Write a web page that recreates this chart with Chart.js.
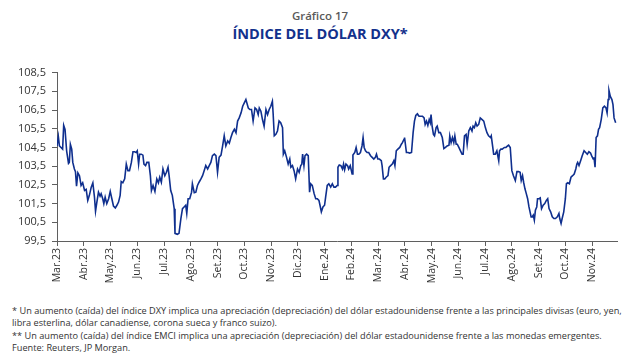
<!DOCTYPE html>
<html>
<head>
<meta charset="utf-8">
<script src="https://cdn.jsdelivr.net/npm/chart.js@4.4.1/dist/chart.umd.min.js"></script>
<style>
  body { margin: 0; width: 640px; height: 361px; background: #fff; font-family: "Open Sans", sans-serif; position: relative; overflow: hidden; }
  #sub { position: absolute; top: 8px; left: 0; width: 640px; text-align: center; font-size: 11.5px; font-weight: 600; color: #5a5a5a; }
  #title { position: absolute; top: 24px; left: 0; width: 640px; text-align: center; font-size: 14.5px; font-weight: 700; color: #13318c; }
  #wrap { position: absolute; top: 60px; left: 0; width: 640px; height: 240px; }
  #notes { position: absolute; top: 305px; left: 12px; width: 626px; font-size: 9.2px; line-height: 12.4px; color: #333; }
</style>
</head>
<body>
<div id="sub">Gráfico 17</div>
<div id="title">ÍNDICE DEL DÓLAR DXY*</div>
<div id="wrap"><canvas id="dxyChart" width="640" height="240"></canvas></div>
<div id="notes">
  * Un aumento (caída) del índice DXY implica una apreciación (depreciación) del dólar estadounidense frente a las principales divisas (euro, yen,<br>
  libra esterlina, dólar canadiense, corona sueca y franco suizo).<br>
  ** Un aumento (caída) del índice EMCI implica una apreciación (depreciación) del dólar estadounidense frente a las monedas emergentes.<br>
  Fuente: Reuters, JP Morgan.
</div>
<script>
// month labels (one tick per month, starting Mar.23)
const monthLabels = ['Mar.23','Abr.23','May.23','Jun.23','Jul.23','Ago.23','Set.23','Oct.23','Nov.23','Dic.23',
  'Ene.24','Feb.24','Mar.24','Abr.24','May.24','Jun.24','Jul.24','Ago.24','Set.24','Oct.24','Nov.24'];

// time in months since 1 Mar 2023
const months = [
  0.00,0.05,0.09,0.15,0.21,0.25,0.30,0.36,0.43,0.46,0.50,0.55,0.59,0.65,0.69,0.73,0.78,0.84,0.90,0.96,
  1.03,1.09,1.15,1.21,1.28,1.34,1.40,1.44,1.49,1.55,1.61,1.65,1.71,1.75,1.80,1.86,1.93,1.99,
  2.05,2.11,2.18,2.24,2.30,2.36,2.40,2.46,2.53,2.59,2.65,2.71,2.78,2.84,2.90,2.96,
  3.00,3.05,3.09,3.15,3.21,3.25,3.31,3.36,3.43,3.49,3.53,3.59,3.66,3.73,3.79,3.84,3.90,3.96,
  4.03,4.09,4.15,4.19,4.25,4.31,4.38,4.41,4.50,4.56,4.63,4.69,4.75,4.81,4.85,4.90,4.96,
  5.03,5.06,5.13,5.19,5.25,5.31,5.38,5.44,5.50,5.56,5.63,5.69,5.75,5.81,5.88,5.94,
  6.00,6.06,6.13,6.19,6.25,6.31,6.38,6.44,6.50,6.56,6.63,6.69,6.75,6.81,6.88,6.94,
  7.00,7.06,7.15,7.21,7.27,7.33,7.40,7.46,7.52,7.56,7.62,7.68,7.74,7.81,7.87,7.93,7.99,
  8.05,8.08,8.12,8.18,8.24,8.30,8.36,8.43,8.46,8.51,8.58,8.64,8.70,8.74,8.80,8.86,8.92,8.99,
  9.05,9.11,9.15,9.18,9.23,9.27,9.33,9.39,9.44,9.48,9.54,9.61,9.67,9.73,9.79,9.83,9.88,9.94,
  10.00,10.04,10.10,10.16,10.23,10.29,10.35,10.41,10.47,10.50,10.55,10.61,10.67,10.71,10.75,10.80,10.86,10.90,10.96,
  11.03,11.06,11.13,11.18,11.23,11.28,11.34,11.40,11.44,11.48,11.53,11.59,11.65,11.72,11.78,11.84,11.90,11.94,11.99,
  12.05,12.12,12.15,12.20,12.25,12.30,12.37,12.41,12.47,12.53,12.59,12.63,12.68,12.74,12.81,12.87,12.91,12.97,12.99,
  13.06,13.12,13.18,13.25,13.31,13.36,13.41,13.47,13.53,13.60,13.66,13.72,13.76,13.81,13.86,13.91,13.95,13.98,
  14.02,14.07,14.11,14.17,14.21,14.27,14.33,14.40,14.46,14.52,14.58,14.65,14.68,14.73,14.78,14.83,14.87,14.92,14.96,
  15.02,15.08,15.14,15.18,15.23,15.29,15.33,15.39,15.45,15.51,15.55,15.60,15.65,15.70,15.76,15.82,15.89,15.95,
  16.01,16.07,16.13,16.20,16.23,16.28,16.32,16.38,16.44,16.51,16.54,16.59,16.64,16.72,16.78,16.84,16.88,16.94,
  17.00,17.06,17.13,17.19,17.25,17.31,17.35,17.40,17.44,17.49,17.54,17.59,17.64,17.68,17.72,17.76,17.80,17.84,17.88,17.93,17.96,
  18.02,18.06,18.11,18.17,18.23,18.29,18.34,18.39,18.45,18.51,18.57,18.63,18.70,18.76,18.79,18.84,18.88,18.94,
  19.00,19.04,19.09,19.15,19.21,19.27,19.33,19.39,19.43,19.46,19.51,19.57,19.63,19.70,19.76,19.82,19.88,19.94,19.98,
  20.04,20.07,20.11,20.15,20.20,20.24,20.28,20.34,20.40,20.46,20.52,20.56,20.60,20.63,20.68,20.74,20.78,20.82,20.88
];

// DXY index level at each of those times
const dxy = [
  104.58,105.08,104.58,104.50,104.41,105.68,105.47,104.32,103.65,103.70,104.67,104.41,103.70,103.35,103.21,102.43,103.14,102.99,102.47,102.61,
  102.20,102.26,101.67,101.94,102.38,102.61,101.85,101.09,101.58,102.11,101.90,102.03,101.76,101.50,101.85,101.50,101.76,102.15,
  101.76,101.37,101.27,101.41,101.58,101.94,102.68,102.61,102.82,103.61,103.26,103.26,103.70,104.27,104.27,104.23,
  104.32,103.61,104.14,104.14,104.09,103.61,103.53,103.70,103.70,102.99,102.20,102.47,102.15,102.82,102.61,102.91,102.64,103.35,
  102.99,103.17,103.44,102.99,102.20,101.94,101.23,99.91,99.86,99.91,100.70,101.23,101.32,101.41,100.97,101.76,101.76,
  102.11,102.56,102.08,102.11,102.47,102.64,102.82,102.99,103.26,103.53,103.35,103.53,103.70,104.06,104.14,104.06,
  103.17,103.97,104.09,104.58,105.12,104.58,104.85,104.73,105.03,105.29,105.47,105.29,105.91,106.08,106.35,106.70,
  106.88,107.06,106.61,106.53,106.53,105.91,106.61,106.53,106.26,106.61,106.44,105.99,105.64,106.53,106.26,106.53,106.70,
  106.97,106.26,105.12,105.20,105.38,105.91,105.82,105.56,104.14,104.32,103.97,103.61,103.88,103.44,103.53,103.26,102.82,103.35,
  103.17,103.53,103.61,104.14,103.53,104.06,104.14,104.06,102.11,102.56,102.47,102.03,101.76,101.76,101.67,101.41,101.06,101.32,
  101.41,101.85,102.47,102.56,102.38,102.56,102.38,102.38,102.47,103.44,103.56,103.53,103.35,103.61,103.31,103.61,103.53,103.35,103.53,
  103.08,104.09,104.23,104.50,104.14,104.14,104.23,104.58,105.03,104.50,104.32,104.23,104.23,104.06,103.97,103.88,103.97,104.14,103.88,
  103.88,103.79,103.53,102.82,102.82,102.91,102.99,103.44,103.53,103.61,103.79,103.53,104.32,104.41,104.50,104.67,104.76,104.94,105.03,
  104.23,104.23,104.20,104.23,105.29,105.91,106.21,106.30,106.17,106.17,106.17,106.08,105.73,105.91,105.68,105.99,105.82,106.26,
  105.64,105.20,105.12,105.56,105.64,105.29,105.29,105.03,104.44,104.50,104.58,104.62,105.12,104.76,105.03,104.76,105.12,104.67,104.67,
  104.50,104.32,104.14,104.14,105.12,105.20,104.67,105.38,105.56,105.38,105.64,105.56,105.82,105.64,105.73,106.08,105.99,105.91,
  105.56,105.29,105.12,105.03,105.12,104.58,104.14,104.14,104.32,103.79,104.32,104.41,104.41,104.50,104.50,104.58,104.62,104.50,
  103.26,102.99,102.73,103.21,103.21,103.17,102.73,102.99,102.64,102.29,102.03,101.76,101.32,101.06,100.79,100.79,100.88,100.61,101.14,101.32,101.76,
  101.76,101.80,101.23,101.41,101.50,101.67,101.76,101.23,101.06,100.79,100.70,100.70,100.79,100.97,100.70,100.44,100.70,101.06,
  101.76,102.56,102.61,102.56,102.91,102.99,103.08,103.35,103.61,103.70,103.53,103.79,104.06,104.32,104.23,104.14,104.27,104.20,104.06,
  103.88,103.97,103.44,105.03,105.12,105.47,105.56,105.99,106.61,106.70,106.61,106.35,107.06,107.55,107.23,107.06,106.79,106.08,105.82
];

const yMin = 99.5;
const yMax = 108.5;

const axisColor = '#5f5f5f';
const points = months.map((m, i) => ({ x: m, y: dxy[i] }));

new Chart(document.getElementById('dxyChart'), {
  type: 'line',
  data: {
    datasets: [{
      data: points,
      borderColor: '#0f2f8e',
      borderWidth: 1.6,
      pointRadius: 0,
      tension: 0,
      fill: false
    }]
  },
  options: {
    responsive: false,
    animation: false,
    layout: { padding: { top: 11, right: 23, left: 0, bottom: 0 } },
    plugins: { legend: { display: false }, tooltip: { enabled: false } },
    scales: {
      x: {
        type: 'linear',
        min: 0,
        max: 20.93,
        afterFit: s => { s.height = 59; },
        border: { color: axisColor, width: 1 },
        grid: { drawOnChartArea: false, tickLength: 5, color: axisColor },
        ticks: {
          stepSize: 1,
          includeBounds: false,
          autoSkip: false,
          minRotation: 90,
          maxRotation: 90,
          padding: 2,
          color: '#333',
          font: { family: 'Open Sans', size: 10.5 },
          callback: v => monthLabels[v]
        }
      },
      y: {
        min: yMin,
        max: yMax,
        afterFit: s => { s.width = 57; },
        border: { color: axisColor, width: 1 },
        grid: { drawOnChartArea: false, tickLength: 5, color: axisColor },
        ticks: {
          stepSize: 1,
          padding: 6,
          color: '#333',
          font: { family: 'Open Sans', size: 11 },
          callback: v => v.toFixed(1).replace('.', ',')
        }
      }
    }
  }
});
</script>
</body>
</html>
